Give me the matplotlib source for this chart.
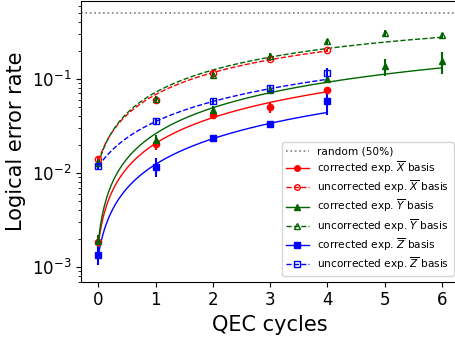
import matplotlib
matplotlib.use("Agg")
import matplotlib.pyplot as plt
import numpy as np
from matplotlib.lines import Line2D

cycles_xz = [0, 1, 2, 3, 4]
cycles_y = [0, 1, 2, 3, 4, 5, 6]

x_corr = [0.00183, 0.0204, 0.0417, 0.0504, 0.0756]
x_corr_err = [0.0003, 0.003, 0.004, 0.007, 0.004]
x_unc = [0.0142, 0.060, 0.116, 0.164, 0.201]
x_unc_err = [0.001, 0.004, 0.006, 0.008, 0.008]

y_corr = [0.0019, 0.0226, 0.047, 0.0769, 0.100, 0.136, 0.154]
y_corr_err = [0.0003, 0.003, 0.004, 0.005, 0.007, 0.028, 0.04]
y_unc = [0.0127, 0.0617, 0.109, 0.177, 0.251, 0.308, 0.291]
y_unc_err = [0.001, 0.004, 0.007, 0.012, 0.015, 0.02, 0.02]

z_corr = [0.00135, 0.0117, 0.0233, 0.0334, 0.0578]
z_corr_err = [0.0003, 0.0027, 0.002, 0.002, 0.016]
z_unc = [0.0118, 0.0354, 0.0587, 0.080, 0.116]
z_unc_err = [0.0008, 0.003, 0.004, 0.005, 0.016]

# fit parameters (prep error p0, error per cycle eps) for each series
fit_p0 = {"xc": 0.0018, "xu": 0.0135, "yc": 0.0019, "yu": 0.0125, "zc": 0.00135, "zu": 0.0118}
fit_eps = {"xc": 0.0189, "xu": 0.0562, "yc": 0.0244, "yu": 0.0611, "zc": 0.01105, "zu": 0.024}


def model(n, p0, eps):
    return 0.5 * (1 - (1 - 2 * p0) * (1 - 2 * eps) ** n)


fig = plt.figure(figsize=(4.55, 3.38), dpi=100)
ax = fig.add_axes([0.1787, 0.1666, 0.830, 0.831])

ax.axhline(0.5, color="gray", ls=":", lw=1.2)

series = [
    ("xc", cycles_xz, x_corr, x_corr_err, "red", "-", "o", True, r"corrected exp. $\overline{X}$ basis"),
    ("xu", cycles_xz, x_unc, x_unc_err, "red", "--", "o", False, r"uncorrected exp. $\overline{X}$ basis"),
    ("yc", cycles_y, y_corr, y_corr_err, "darkgreen", "-", "^", True, r"corrected exp. $\overline{Y}$ basis"),
    ("yu", cycles_y, y_unc, y_unc_err, "darkgreen", "--", "^", False, r"uncorrected exp. $\overline{Y}$ basis"),
    ("zc", cycles_xz, z_corr, z_corr_err, "blue", "-", "s", True, r"corrected exp. $\overline{Z}$ basis"),
    ("zu", cycles_xz, z_unc, z_unc_err, "blue", "--", "s", False, r"uncorrected exp. $\overline{Z}$ basis"),
]

handles = [Line2D([], [], color="gray", ls=":", lw=1.2, label="random (50%)")]
for key, xs, ys, errs, col, ls, mk, filled, lab in series:
    n = np.linspace(0, xs[-1], 300)
    ax.plot(n, model(n, fit_p0[key], fit_eps[key]), color=col, ls=ls, lw=1.0)
    fc = col if filled else "none"
    ax.errorbar(xs, ys, yerr=errs, fmt=mk, color=col, mfc=fc, mec=col,
                ms=4.5, elinewidth=1.5, capsize=0, zorder=3)
    handles.append(Line2D([], [], color=col, ls=ls, lw=1.0, marker=mk,
                          mfc=fc, mec=col, ms=4, label=lab))

ax.set_yscale("log")
ax.set_xlim(-0.3, 6.3)
ax.set_ylim(6.98e-4, 0.676)
ax.set_xticks(range(7))
ax.tick_params(labelsize=12)
ax.set_xlabel("QEC cycles", fontsize=15)
ax.set_ylabel("Logical error rate", fontsize=15)
ax.legend(handles=handles, loc="lower right", fontsize=7.6, labelspacing=0.25,
          handlelength=2.2)

fig.savefig("out.png", dpi=100)
